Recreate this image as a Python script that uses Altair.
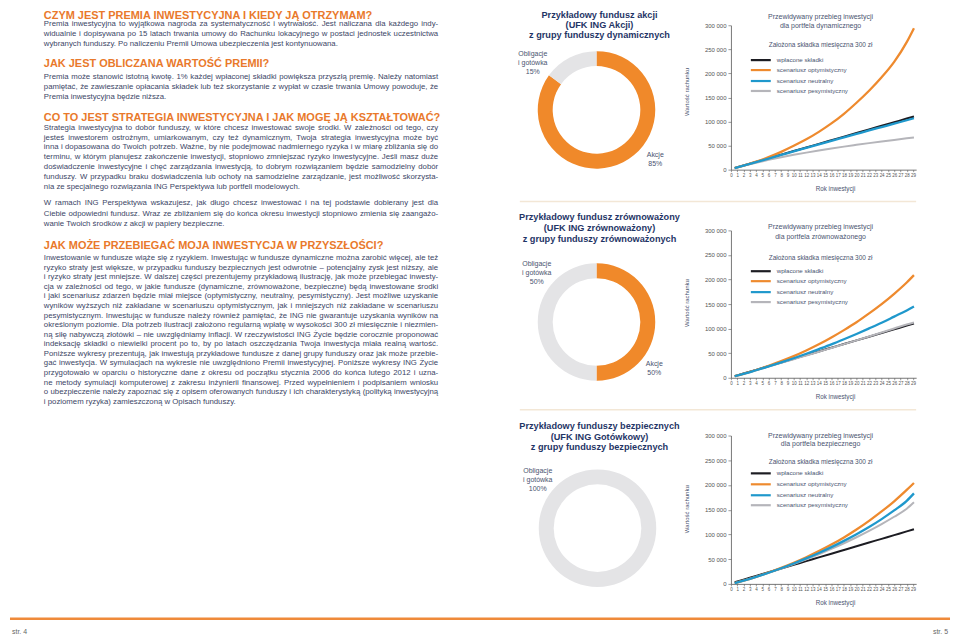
import unicodedata
import altair as alt
import pandas as pd

# ------------------------------------------------------------------ data
YEARS = [0.6, 2, 4, 6, 8, 10, 12, 14, 16, 18, 20, 22, 24, 26, 28, 29.15]
# values in thousands of PLN
WPLACONE = [3.4, 8.6, 16.1, 23.6, 31.1, 38.6, 46.1, 53.6, 61.1, 68.6, 76.1, 83.6, 91.1, 98.6, 106.1, 110.5]
DYN_OPT = [3.4, 8.2, 16.5, 26, 37, 49.5, 63, 78.5, 96, 116, 139, 164, 192, 224, 265, 294]
DYN_NEU = [3.3, 8.3, 15.7, 23.1, 30.5, 37.9, 45.2, 52.5, 59.8, 67, 74.2, 81.4, 88.5, 95.6, 102.6, 106.8]
DYN_PES = [3.2, 7.8, 14.3, 20.3, 25.8, 30.8, 35.4, 39.8, 43.9, 47.8, 51.5, 55.1, 58.5, 61.8, 65, 66.8]
BAL_OPT = [3.3, 8, 15.8, 24.4, 33.8, 44, 55.5, 68, 82, 97, 113, 131, 150, 171, 194, 209]
BAL_NEU = [3.3, 7.8, 15.3, 23.1, 31.2, 39.8, 48.8, 58.3, 68, 78.4, 89.2, 100.5, 112, 124.5, 137, 145]
BAL_PES = [3.3, 7.9, 15.3, 22.8, 30.3, 37.8, 45.4, 53, 60.7, 68.4, 76.2, 84.1, 92.1, 100.2, 108.4, 112.6]
SAFE_OPT = [1.5, 6.5, 14.3, 23, 32.5, 42.8, 54, 66.3, 79.5, 94, 110, 127.5, 146.5, 167, 190, 204]
SAFE_NEU = [1.5, 6.5, 14.2, 22.6, 31.7, 41.3, 51.5, 62.5, 74.3, 87, 100.5, 115, 131, 148.5, 168, 183]
SAFE_PES = [1.5, 6.5, 14.1, 22.3, 31, 40.2, 49.8, 60, 70.8, 82.2, 94.3, 107.2, 121, 135.8, 152, 165]

SERIES = ["wpłacone składki", "scenariusz optymistyczny", "scenariusz neutralny", "scenariusz pesymistyczny"]
CHART_DATA = [
    [WPLACONE, DYN_OPT, DYN_NEU, DYN_PES],
    [WPLACONE, BAL_OPT, BAL_NEU, BAL_PES],
    [WPLACONE, SAFE_OPT, SAFE_NEU, SAFE_PES],
]
Y_TICKS = [0, 50000, 100000, 150000, 200000, 250000, 300000]
X_TICKS = list(range(30))

DONUT_CATS = ["Akcje", "Obligacje i gotówka"]
DONUT_VALUES = [[85, 15], [50, 50], [0, 100]]
DONUT_TITLES = [
    ["Przykładowy fundusz akcji", "(UFK ING Akcji)", "z grupy funduszy dynamicznych"],
    ["Przykładowy fundusz zrównoważony", "(UFK ING zrównoważony)", "z grupy funduszy zrównoważonych"],
    ["Przykładowy funduszy bezpiecznych", "(UFK ING Gotówkowy)", "z grupy funduszy bezpiecznych"],
]
CHART_TITLES = [
    ["Przewidywany przebieg inwestycji", "dla portfela dynamicznego"],
    ["Przewidywany przebieg inwestycji", "dla portfela zrównoważonego"],
    ["Przewidywany przebieg inwestycji", "dla portfela bezpiecznego"],
]
SUBTITLE = "Założona składka miesięczna 300 zł"
X_TITLE = "Rok inwestycji"
Y_TITLE = "Wartość rachunku"
PAGES = ["str. 4", "str. 5"]

HEADINGS = [
    "CZYM JEST PREMIA INWESTYCYJNA I KIEDY JĄ OTRZYMAM?",
    "JAK JEST OBLICZANA WARTOŚĆ PREMII?",
    "CO TO JEST STRATEGIA INWESTYCYJNA I JAK MOGĘ JĄ KSZTAŁTOWAĆ?",
    "JAK MOŻE PRZEBIEGAĆ MOJA INWESTYCJA W PRZYSZŁOŚCI?",
]
PARA_1 = [
    "Premia inwestycyjna to wyjątkowa nagroda za systematyczność i wytrwałość. Jest naliczana dla każdego indy-",
    "widualnie i dopisywana po 15 latach trwania umowy do Rachunku lokacyjnego w postaci jednostek uczestnictwa",
    "wybranych funduszy. Po naliczeniu Premii Umowa ubezpieczenia jest kontynuowana.",
]
PARA_2 = [
    "Premia może stanowić istotną kwotę. 1% każdej wpłaconej składki powiększa przyszłą premię. Należy natomiast",
    "pamiętać, że zawieszanie opłacania składek lub też skorzystanie z wypłat w czasie trwania Umowy powoduje, że",
    "Premia inwestycyjna będzie niższa.",
]
PARA_3A = [
    "Strategia inwestycyjna to dobór funduszy, w które chcesz inwestować swoje środki. W zależności od tego, czy",
    "jesteś inwestorem ostrożnym, umiarkowanym, czy też dynamicznym, Twoja strategia inwestycyjna może być",
    "inna i dopasowana do Twoich potrzeb. Ważne, by nie podejmować nadmiernego ryzyka i w miarę zbliżania się do",
    "terminu, w którym planujesz zakończenie inwestycji, stopniowo zmniejszać ryzyko inwestycyjne. Jeśli masz duże",
    "doświadczenie inwestycyjne i chęć zarządzania inwestycją, to dobrym rozwiązaniem będzie samodzielny dobór",
    "funduszy. W przypadku braku doświadczenia lub ochoty na samodzielne zarządzanie, jest możliwość skorzysta-",
    "nia ze specjalnego rozwiązania ING Perspektywa lub portfeli modelowych.",
]
PARA_3B = [
    "W ramach ING Perspektywa wskazujesz, jak długo chcesz inwestować i na tej podstawie dobierany jest dla",
    "Ciebie odpowiedni fundusz. Wraz ze zbliżaniem się do końca okresu inwestycji stopniowo zmienia się zaangażo-",
    "wanie Twoich środków z akcji w papiery bezpieczne.",
]
PARA_4 = [
    "Inwestowanie w fundusze wiąże się z ryzykiem. Inwestując w fundusze dynamiczne można zarobić więcej, ale też",
    "ryzyko straty jest większe, w przypadku funduszy bezpiecznych jest odwrotnie – potencjalny zysk jest niższy, ale",
    "i ryzyko straty jest mniejsze. W dalszej części prezentujemy przykładową ilustrację, jak może przebiegać inwesty-",
    "cja w zależności od tego, w jakie fundusze (dynamiczne, zrównoważone, bezpieczne) będą inwestowane środki",
    "i jaki scenariusz zdarzeń będzie miał miejsce (optymistyczny, neutralny, pesymistyczny). Jest możliwe uzyskanie",
    "wyników wyższych niż zakładane w scenariuszu optymistycznym, jak i mniejszych niż zakładane w scenariuszu",
    "pesymistycznym. Inwestując w fundusze należy również pamiętać, że ING nie gwarantuje uzyskania wyników na",
    "określonym poziomie. Dla potrzeb ilustracji założono regularną wpłatę w wysokości 300 zł miesięcznie i niezmien-",
    "ną siłę nabywczą złotówki – nie uwzględniamy inflacji. W rzeczywistości ING Życie będzie corocznie proponować",
    "indeksację składki o niewielki procent po to, by po latach oszczędzania Twoja inwestycja miała realną wartość.",
    "Poniższe wykresy prezentują, jak inwestują przykładowe fundusze z danej grupy funduszy oraz jak może przebie-",
    "gać inwestycja. W symulacjach na wykresie nie uwzględniono Premii inwestycyjnej. Poniższe wykresy ING Życie",
    "przygotowało w oparciu o historyczne dane z okresu od początku stycznia 2006 do końca lutego 2012 i uzna-",
    "ne metody symulacji komputerowej z zakresu inżynierii finansowej. Przed wypełnieniem i podpisaniem wniosku",
    "o ubezpieczenie należy zapoznać się z opisem oferowanych funduszy i ich charakterystyką (polityką inwestycyjną",
    "i poziomem ryzyka) zamieszczoną w Opisach funduszy.",
]

# ------------------------------------------------------------------ styles / layout
ORANGE = "#EE8A2E"
BLUE = "#1F98CC"
GREY_LINE = "#B5B5BA"
BLACK = "#1c1c22"
SERIES_COLORS = [BLACK, ORANGE, BLUE, GREY_LINE]
DONUT_COLORS = ["#F0892A", "#E4E4E6"]
HEAD_COLOR = "#E9792B"
BODY_COLOR = "#3b4666"
NAVY = "#1f3566"
SMALL_COLOR = "#4a5470"
FONT = "Liberation Sans"

OX, OY = 8, 8                      # chart origin on the page
CANVAS_W = 724                     # page x 8 .. 732 (left text + donuts)
RIGHT_W = 186                      # line-chart plot width (page x 732 .. 918)
ROW_TOPS = [8, 168, 377]
ROW_H = [160, 209, 207]
PLOT_H = [145, 148, 149]

# Helvetica/Arial advance widths (1/1000 em) for justified text
REG = {' ': 278, '!': 278, '"': 355, '%': 889, "'": 191, '(': 333, ')': 333, ',': 278, '-': 333,
       '.': 278, '/': 278, ':': 278, ';': 278, '?': 556, '–': 556}
for d in '0123456789':
    REG[d] = 556
REG.update(dict(zip('ABCDEFGHIJKLMNOPQRSTUVWXYZ',
                    [667, 667, 722, 722, 667, 611, 778, 722, 278, 500, 667, 556, 833, 722, 778, 667, 778, 722,
                     667, 611, 722, 667, 944, 667, 667, 611])))
REG.update(dict(zip('abcdefghijklmnopqrstuvwxyz',
                    [556, 556, 500, 556, 556, 278, 556, 556, 222, 222, 500, 222, 833, 556, 556, 556, 556, 333,
                     500, 278, 556, 500, 722, 500, 500, 500])))


def base(ch):
    if ch == 'ł':
        return 'l'
    if ch == 'Ł':
        return 'L'
    return unicodedata.normalize('NFD', ch)[0]


def em(s):
    return sum(REG.get(base(c), 556) for c in s) / 1000.0


TEXT_X, TEXT_W = 42, 396
BLOCKS = [  # (lines, first y, line step)
    (PARA_1, 22, 10.0),
    (PARA_2, 75, 9.9),
    (PARA_3A, 126, 9.85),
    (PARA_3B, 202, 10.4),
    (PARA_4, 257, 9.6),
]
HEAD_Y = [13.6, 62, 116, 245]

justified_lines = [ln for lines, _, _ in BLOCKS for ln in lines[:-1]]
BODY_FS = TEXT_W / max(em(ln) for ln in justified_lines) * 0.995
HEAD_FS = 11.0

body_rows = []
for lines, y0, step in BLOCKS:
    for i, ln in enumerate(lines):
        y = y0 + i * step
        if i == len(lines) - 1:
            body_rows.append({'px': TEXT_X - OX, 'py': y - OY, 't': ln})
            continue
        words = ln.split(' ')
        ws = [em(w) * BODY_FS for w in words]
        gap = (TEXT_W - sum(ws)) / (len(words) - 1)
        x = TEXT_X
        for w, wd in zip(words, ws):
            body_rows.append({'px': x - OX, 'py': y - OY, 't': w})
            x += wd + gap

head_rows = [{'px': TEXT_X - OX, 'py': y - OY, 't': h} for h, y in zip(HEADINGS, HEAD_Y)]


def P(x, y, t):
    return {'px': x - OX, 'py': y - OY, 't': t}


donut_title_rows = []
for lines, ys in zip(DONUT_TITLES, [[12.8, 22.8, 33], [216, 227, 238], [425, 436, 447]]):
    for t, y in zip(lines, ys):
        donut_title_rows.append(P(600, y, t))

donut_label_rows = []
LABEL_POS = [
    ((533, [52, 61, 70]), (656, [153, 162])),
    ((537, [263, 272, 281]), (655, [363, 372])),
    ((538, [471, 480, 489]), None),
]
for vals, (obl, akc) in zip(DONUT_VALUES, LABEL_POS):
    for t, y in zip(["Obligacje", "i gotówka", f"{vals[1]}%"], obl[1]):
        donut_label_rows.append(P(obl[0], y, t))
    if akc is not None:
        for t, y in zip(["Akcje", f"{vals[0]}%"], akc[1]):
            donut_label_rows.append(P(akc[0], y, t))

chart_title_rows, sub_rows, legend_rows, xt_rows, yt_rows, swatch_rows = [], [], [], [], [], []
TITLE_Y = [[15, 24], [226, 236], [435, 444]]
SUB_Y = [43, 257, 462]
LEG_Y = [[58, 68, 79, 89], [270, 280, 291, 301], [473, 484, 495, 505]]
XT_Y = [187, 396, 603]
YT_Y = [90, 302, 509]
for k in range(3):
    for t, y in zip(CHART_TITLES[k], TITLE_Y[k]):
        chart_title_rows.append(P(822, y, t))
    sub_rows.append(P(822, SUB_Y[k], SUBTITLE))
    for name, col, y in zip(SERIES, SERIES_COLORS, LEG_Y[k]):
        legend_rows.append(P(778, y, name))
        swatch_rows.append({'px': 752 - OX, 'px2': 772 - OX, 'py': y - OY, 'py2': y - OY, 'c': col, 'w': 2.2})
    xt_rows.append(P(837, XT_Y[k], X_TITLE))
    yt_rows.append(P(688, YT_Y[k], Y_TITLE))

rule_rows = swatch_rows + [
    {'px': 520 - OX, 'px2': 918 - OX, 'py': 200 - OY, 'py2': 200 - OY, 'c': "#F3E7D6", 'w': 1.5},
    {'px': 520 - OX, 'px2': 918 - OX, 'py': 409 - OY, 'py2': 409 - OY, 'c': "#F3E7D6", 'w': 1.5},
    {'px': 8 - OX, 'px2': 952 - OX, 'py': 619 - OY, 'py2': 619 - OY, 'c': "#EF8A3A", 'w': 2.5},
]
page_left = [P(10, 632, PAGES[0])]
page_right = [P(950, 632, PAGES[1])]

XP = alt.X('px:Q', scale=None, axis=None)
YP = alt.Y('py:Q', scale=None, axis=None)


def text_layer(rows, **kw):
    return alt.Chart(pd.DataFrame(rows)).mark_text(baseline='middle', font=FONT, **kw).encode(
        x=XP, y=YP, text='t:N')


rules = alt.Chart(pd.DataFrame(rule_rows)).mark_rule().encode(
    x=XP, x2='px2:Q', y=YP, y2='py2:Q',
    color=alt.Color('c:N', scale=None), size=alt.Size('w:Q', scale=None))

# ------------------------------------------------------------------ donuts (drawn in the canvas)
DONUT_CENTERS = [(597, 108), (597, 321), (598, 528)]
donut_layers = []
for k in range(3):
    df = pd.DataFrame({'cat': DONUT_CATS, 'val': DONUT_VALUES[k], 'ord': [0, 1]})
    df = df[df['val'] > 0]
    cx, cy = DONUT_CENTERS[k]
    donut_layers.append(
        alt.Chart(df).mark_arc(innerRadius=44, outerRadius=59).encode(
            theta=alt.Theta('val:Q', stack=True),
            color=alt.Color('cat:N', scale=alt.Scale(domain=DONUT_CATS, range=DONUT_COLORS), legend=None),
            order=alt.Order('ord:Q'),
            x=alt.value(cx - OX), y=alt.value(cy - OY),
        )
    )

canvas = alt.layer(
    rules,
    *donut_layers,
    text_layer(head_rows, align='left', fontSize=HEAD_FS, fontWeight='bold', color=HEAD_COLOR),
    text_layer(body_rows, align='left', fontSize=BODY_FS, color=BODY_COLOR),
    text_layer(donut_title_rows, align='center', fontSize=9.2, fontWeight='bold', color=NAVY),
    text_layer(donut_label_rows, align='center', fontSize=7, color=SMALL_COLOR),
    text_layer(chart_title_rows, align='center', fontSize=7, color=SMALL_COLOR),
    text_layer(sub_rows, align='center', fontSize=6.5, color=SMALL_COLOR),
    text_layer(legend_rows, align='left', fontSize=6.2, color=SMALL_COLOR),
    text_layer(xt_rows, align='center', fontSize=6.3, color=SMALL_COLOR),
    text_layer(yt_rows, align='center', fontSize=6, angle=270, color=SMALL_COLOR),
    text_layer(page_left, align='left', fontSize=7, color="#666666"),
    text_layer(page_right, align='right', fontSize=7, color="#666666"),
).properties(width=CANVAS_W, height=626)

# ------------------------------------------------------------------ line charts
x_axis = alt.Axis(values=X_TICKS, labelFontSize=4.5, tickSize=2, labelPadding=1, labelFlush=False,
                  labelOverlap=False, labelAngle=0, grid=False, title=None, domainColor="#555555",
                  tickColor="#555555", labelColor="#555555", domainWidth=0.8, tickWidth=0.6, labelFont=FONT)
y_axis = alt.Axis(values=Y_TICKS, labelExpr="replace(format(datum.value, ','), ',', ' ')", labelFontSize=6,
                  tickSize=3, labelPadding=2, grid=False, title=None, domainColor="#555555",
                  tickColor="#555555", labelColor="#555555", domainWidth=0.8, tickWidth=0.6, labelFont=FONT)

order_draw = [0, 3, 1, 2]  # paid-in, pessimistic, optimistic, neutral
line_charts = []
for k in range(3):
    h = ROW_H[k]
    layers = []
    for s in order_draw:
        df = pd.DataFrame({'rok': YEARS, 'v': [v * 1000 for v in CHART_DATA[k][s]], 'seria': SERIES[s]})
        layers.append(
            alt.Chart(df).mark_line(color=SERIES_COLORS[s], strokeWidth=2.3 if s in (1, 2) else 2.0,
                                    interpolate='monotone').encode(
                x=alt.X('rok:Q', scale=alt.Scale(domain=[0, 29.5], nice=False, zero=False), axis=x_axis),
                y=alt.Y('v:Q', scale=alt.Scale(domain=[0, 300000], range=[h, h - PLOT_H[k]], nice=False),
                        axis=y_axis),
            )
        )
    line_charts.append(alt.layer(*layers).properties(width=RIGHT_W, height=h))

right = alt.vconcat(*line_charts, spacing=0, bounds='flush')

chart = alt.hconcat(canvas, right, spacing=0, bounds='flush').properties(
    padding=0, background='white'
).configure(font=FONT).configure_view(strokeWidth=0)

chart.save("out.html", embed_options={"renderer": "svg", "actions": False})
